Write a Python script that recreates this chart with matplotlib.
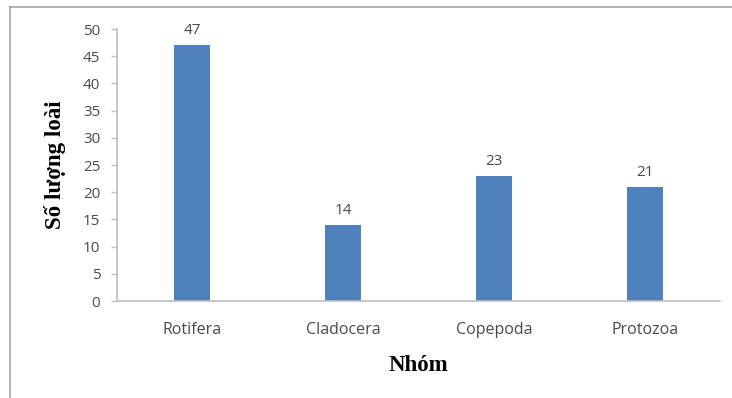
"""
plot.py
-------
Bar chart: number of species per zooplankton group.
"""

import matplotlib

matplotlib.use("Agg")
import matplotlib.pyplot as plt
from matplotlib.lines import Line2D

groups = ["Rotifera", "Cladocera", "Copepoda", "Protozoa"]
species_counts = [47, 14, 23, 21]
y_ticks = [0, 5, 10, 15, 20, 25, 30, 35, 40, 45, 50]

BAR_COLOR = "#4F81BD"
TEXT_COLOR = "#4A4A4A"
AXIS_COLOR = "#BFBFBF"
SANS = ["Open Sans", "DejaVu Sans"]
SERIF = ["Liberation Serif", "DejaVu Serif"]

fig = plt.figure(figsize=(7.32, 3.98), dpi=100)
ax = fig.add_axes([0.1598, 0.2437, 0.8238, 0.6834])

x = list(range(len(groups)))
ax.bar(x, species_counts, width=0.24, color=BAR_COLOR, zorder=2)

for xi, v in zip(x, species_counts):
    ax.annotate(str(v), (xi, v), xytext=(0, 5), textcoords="offset points",
                ha="center", va="bottom", fontsize=11, color=TEXT_COLOR,
                family=SANS)

ax.set_xlim(-0.5, len(groups) - 0.5)
ax.set_ylim(0, 50)
ax.set_yticks(y_ticks)
ax.set_xticks(x)
ax.set_xticklabels(groups)

for side in ("top", "right"):
    ax.spines[side].set_visible(False)
for side in ("left", "bottom"):
    ax.spines[side].set_color(AXIS_COLOR)
    ax.spines[side].set_linewidth(1.2)

ax.tick_params(axis="y", length=4, width=1, color=AXIS_COLOR, pad=8,
               labelsize=11, labelcolor=TEXT_COLOR)
ax.tick_params(axis="x", length=0, pad=15, labelsize=11.5,
               labelcolor=TEXT_COLOR)
for lbl in ax.get_xticklabels() + ax.get_yticklabels():
    lbl.set_family(SANS)

ax.set_ylabel("Số lượng loài", fontsize=16.5, fontweight="bold",
              family=SERIF, color="black", labelpad=12)
ax.set_xlabel("Nhóm", fontsize=16.5, fontweight="bold", family=SERIF,
              color="black", labelpad=12)

# chart frame (only top and left edges are visible in the crop)
fig.add_artist(Line2D([0.0137, 0.0137], [0.0, 0.982], transform=fig.transFigure,
                      color="#A6A6A6", linewidth=1.2))
fig.add_artist(Line2D([0.0137, 1.0], [0.982, 0.982], transform=fig.transFigure,
                      color="#A6A6A6", linewidth=1.2))

fig.savefig("out.png", dpi=100)
